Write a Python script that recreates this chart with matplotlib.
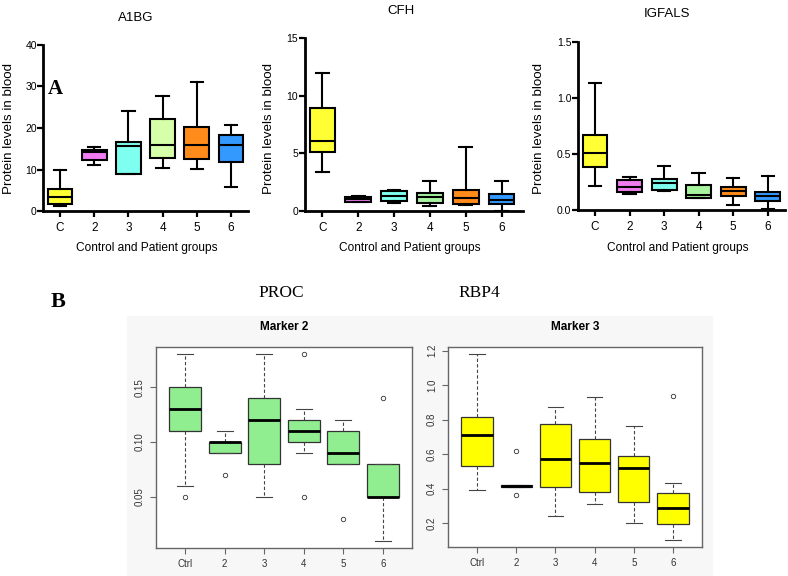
import numpy as np
import matplotlib
matplotlib.use("Agg")
import matplotlib.pyplot as plt
from matplotlib.patches import Rectangle

# ---- top row (GraphPad style) : whisker low, q1, median, q3, whisker high ----
groups_top = ["C", "2", "3", "4", "5", "6"]

a1bg_lo = [1.2, 11.0, 8.9, 10.4, 10.2, 5.8]
a1bg_q1 = [1.8, 12.2, 8.9, 12.8, 12.6, 11.8]
a1bg_med = [3.4, 14.2, 15.6, 15.8, 16.0, 15.8]
a1bg_q3 = [5.4, 14.8, 16.6, 22.1, 20.3, 18.2]
a1bg_hi = [10.0, 15.4, 24.2, 27.8, 31.1, 20.8]

cfh_lo = [3.4, 0.75, 0.72, 0.41, 0.49, 0.02]
cfh_q1 = [5.13, 0.81, 0.84, 0.67, 0.61, 0.58]
cfh_med = [6.11, 1.01, 1.33, 1.19, 1.10, 0.93]
cfh_q3 = [8.98, 1.25, 1.71, 1.53, 1.80, 1.51]
cfh_hi = [12.0, 1.33, 1.82, 2.61, 5.53, 2.61]

igf_lo = [0.214, 0.14, 0.166, 0.11, 0.042, 0.009]
igf_q1 = [0.383, 0.158, 0.178, 0.11, 0.128, 0.077]
igf_med = [0.51, 0.208, 0.238, 0.134, 0.169, 0.128]
igf_q3 = [0.665, 0.267, 0.273, 0.223, 0.208, 0.157]
igf_hi = [1.13, 0.294, 0.392, 0.333, 0.285, 0.303]

# ---- bottom row (R style) ----
groups_bot = ["Ctrl", "2", "3", "4", "5", "6"]

proc_lo = [0.06, 0.09, 0.05, 0.09, 0.08, 0.01]
proc_q1 = [0.11, 0.09, 0.08, 0.10, 0.08, 0.05]
proc_med = [0.13, 0.10, 0.12, 0.11, 0.09, 0.05]
proc_q3 = [0.15, 0.10, 0.14, 0.12, 0.11, 0.08]
proc_hi = [0.18, 0.11, 0.18, 0.13, 0.12, 0.08]
proc_out = [[0.05], [0.07], [], [0.18, 0.05], [0.03], [0.14]]

rbp_lo = [0.392, 0.41, 0.241, 0.311, 0.20, 0.105]
rbp_q1 = [0.532, 0.41, 0.412, 0.381, 0.322, 0.194]
rbp_med = [0.709, 0.413, 0.571, 0.55, 0.518, 0.287]
rbp_q3 = [0.817, 0.421, 0.777, 0.689, 0.59, 0.375]
rbp_hi = [1.179, 0.421, 0.872, 0.93, 0.761, 0.433]
rbp_out = [[], [0.619, 0.361], [], [], [], [0.936]]

colors_a1bg = ["#FFFF33", "#F07CF0", "#7FFFEF", "#D5FFA8", "#FF8C1A", "#3399FF"]
colors_other = ["#FFFF33", "#F07CF0", "#7FFFEF", "#A8F5A0", "#FF8C1A", "#3399FF"]

SANS = ["Liberation Sans", "DejaVu Sans"]
SERIF = ["Liberation Serif", "DejaVu Serif"]

W, H = 788, 576
fig = plt.figure(figsize=(W / 100, H / 100), dpi=100)


def rect(l, t, r, b):
    return [l / W, 1 - b / H, (r - l) / W, (b - t) / H]


def px(x, y):
    return x / W, 1 - y / H


def stats(lo, q1, med, q3, hi, out=None):
    res = []
    for i in range(len(lo)):
        res.append(dict(whislo=lo[i], q1=q1[i], med=med[i], q3=q3[i], whishi=hi[i],
                        fliers=(out[i] if out else [])))
    return res


# faint gray backdrop of the pasted R figure
fig.patches.append(Rectangle(px(127, 576), (712 - 127) / W, (576 - 316) / H,
                             transform=fig.transFigure, color="#f7f7f7", zorder=-5))


def top_panel(pos, data, colors, ylim, yticks, ylabels, title, title_xy, xlab_x, ylab_x, xlim):
    ax = fig.add_axes(pos)
    bp = ax.bxp(stats(*data), positions=range(1, 7), widths=0.72, capwidths=0.36,
                patch_artist=True, showfliers=False,
                boxprops=dict(linewidth=1.5, edgecolor="black"),
                medianprops=dict(color="black", linewidth=1.5),
                whiskerprops=dict(color="black", linewidth=1.5),
                capprops=dict(color="black", linewidth=1.5))
    for patch, c in zip(bp["boxes"], colors):
        patch.set_facecolor(c)
    ax.set_xlim(*xlim)
    ax.set_ylim(*ylim)
    ax.set_yticks(yticks)
    ax.set_yticklabels(ylabels, family=SANS, fontsize=7.5)
    ax.set_xticks(range(1, 7))
    ax.set_xticklabels(groups_top, family=SANS, fontsize=8.5)
    ax.spines[["top", "right"]].set_visible(False)
    ax.spines[["left", "bottom"]].set_linewidth(2)
    ax.tick_params(direction="out", length=4, width=1.6, pad=4)
    ax.tick_params(axis="y", pad=0.5)
    ax.set_facecolor("none")
    fig.text(*px(*title_xy), title, family=SANS, fontsize=9.5, ha="center", va="center")
    fig.text(*px(xlab_x, 248), "Control and Patient groups", family=SANS, fontsize=8.6,
             ha="center", va="center")
    fig.text(*px(ylab_x, 128), "Protein levels in blood", family=SANS, fontsize=9.6,
             rotation=90, ha="center", va="center")
    return ax


ax1 = top_panel(rect(43, 45, 248, 211), (a1bg_lo, a1bg_q1, a1bg_med, a1bg_q3, a1bg_hi),
                colors_a1bg, (0, 40), [0, 10, 20, 30, 40], ["0", "10", "20", "30", "40"],
                "A1BG", (136, 18), 147, 9, (0.5, 6.5))
ax2 = top_panel(rect(304.5, 38.3, 523, 211), (cfh_lo, cfh_q1, cfh_med, cfh_q3, cfh_hi),
                colors_other, (0, 15), [0, 5, 10, 15], ["0", "5", "10", "15"],
                "CFH", (401, 11), 410, 269, (0.5, 6.6))
ax3 = top_panel(rect(577.7, 41.7, 785, 210), (igf_lo, igf_q1, igf_med, igf_q3, igf_hi),
                colors_other, (0, 1.5), [0, 0.5, 1.0, 1.5], ["0.0", "0.5", "1.0", "1.5"],
                "IGFALS", (667, 14), 678, 539, (0.5, 6.5))

fig.text(*px(55, 89), "A", family=SERIF, fontsize=15, fontweight="bold", ha="center", va="center")
fig.text(*px(58, 302), "B", family=SERIF, fontsize=16, fontweight="bold", ha="center", va="center")
fig.text(*px(281, 293), "PROC", family=SERIF, fontsize=12.5, ha="center", va="center")
fig.text(*px(479, 293), "RBP4", family=SERIF, fontsize=12.5, ha="center", va="center")


def r_panel(pos, data, out, color, yticks, ylabels, title, title_x):
    ax = fig.add_axes(pos)
    lo, q1, med, q3, hi = data
    bp = ax.bxp(stats(lo, q1, med, q3, hi, out), positions=range(1, 7), widths=0.8,
                capwidths=0.4, patch_artist=True,
                boxprops=dict(linewidth=0.9, edgecolor="#333333"),
                medianprops=dict(color="black", linewidth=2.0),
                whiskerprops=dict(color="#444444", linewidth=0.8, linestyle=(0, (3, 2))),
                capprops=dict(color="#444444", linewidth=0.8),
                flierprops=dict(marker="o", markersize=3.2, markerfacecolor="none",
                                markeredgecolor="#333333", markeredgewidth=0.6))
    for patch in bp["boxes"]:
        patch.set_facecolor(color)
    # R pads the data range by 4 %
    all_vals = lo + hi + [v for o in out for v in o]
    lo_v, hi_v = min(all_vals), max(all_vals)
    pad = 0.04 * (hi_v - lo_v)
    ax.set_ylim(lo_v - pad, hi_v + pad)
    ax.set_xlim(0.26, 6.74)
    ax.set_xticks(range(1, 7))
    ax.set_xticklabels(groups_bot, family=SANS, fontsize=7, color="#333333")
    ax.set_yticks(yticks)
    ax.set_yticklabels(ylabels, family=SANS, fontsize=7, color="#333333", rotation=90,
                       va="center")
    for s in ax.spines.values():
        s.set_color("#666666")
        s.set_linewidth(1.0)
    ax.tick_params(direction="out", length=4, width=0.8, color="#666666", pad=4)
    fig.text(*px(title_x, 327), title, family=SANS, fontsize=8.5, fontweight="bold",
             ha="center", va="center")
    return ax


ax4 = r_panel(rect(156, 347, 412, 548), (proc_lo, proc_q1, proc_med, proc_q3, proc_hi),
              proc_out, "#90EE90", [0.05, 0.10, 0.15], ["0.05", "0.10", "0.15"],
              "Marker 2", 284)
ax5 = r_panel(rect(448, 347, 702, 547), (rbp_lo, rbp_q1, rbp_med, rbp_q3, rbp_hi),
              rbp_out, "#FFFF00", [0.2, 0.4, 0.6, 0.8, 1.0, 1.2],
              ["0.2", "0.4", "0.6", "0.8", "1.0", "1.2"], "Marker 3", 575)

fig.savefig("out.png", dpi=100)
